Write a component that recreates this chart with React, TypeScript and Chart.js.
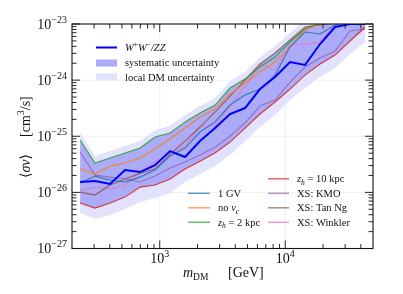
import React, { useEffect, useRef } from "react";
import { Chart, registerables } from "chart.js";

Chart.register(...registerables);

// ---------------- data ----------------
const massGeV = [232, 305, 402, 529, 697, 917, 1208, 1591, 2094, 2758, 3631, 4781, 6295, 8289, 10914, 14370, 18923, 24920, 32810, 43200];

const wwzz = [1.53e-26, 1.59e-26, 1.41e-26, 2.5e-26, 2.3e-26, 3.06e-26, 5.44e-26, 4.26e-26, 8.2e-26, 1.4e-25, 2.49e-25, 3.18e-25, 6.94e-25, 1.14e-24, 2.1e-24, 1.86e-24, 4.4e-24, 8.84e-24, 1.0e-23, 1.0e-23];
const oneGV = [1.47e-26, 1.95e-26, 1.66e-26, 1.53e-26, 1.87e-26, 2.5e-26, 4.44e-26, 6.16e-26, 1.19e-25, 1.8e-25, 3.6e-25, 5.42e-25, 6.94e-25, 1.23e-24, 3.89e-24, 7.2e-24, 6.63e-24, 9.6e-24, 1.18e-23, 1.28e-23];
const noVc = [2.6e-26, 2.12e-26, 2.94e-26, 3.33e-26, 4.09e-26, 5.92e-26, 8.92e-26, 1.4e-25, 2.2e-25, 3.05e-25, 5.66e-25, 8.88e-25, 1.4e-24, 2.1e-24, 3.89e-24, 7.82e-24, 1.0e-23, 1.18e-23, 1.28e-23, 1.39e-23];
const zh2 = [8.56e-26, 3.33e-26, 4.09e-26, 5.02e-26, 6.16e-26, 9.68e-26, 1.14e-25, 1.8e-25, 2.59e-25, 3.6e-25, 7.23e-25, 1.05e-24, 1.71e-24, 2.58e-24, 4.78e-24, 8.15e-24, 1.04e-23, 1.18e-23, 1.28e-23, 1.39e-23];
const zh10 = [6.45e-27, 5.25e-27, 6.45e-27, 8.24e-27, 1.24e-26, 1.35e-26, 1.73e-26, 2.6e-26, 3.6e-26, 5.02e-26, 7.88e-26, 1.4e-25, 2.49e-25, 4.07e-25, 6.94e-25, 1.23e-24, 1.94e-24, 2.8e-24, 4.98e-24, 8.84e-24];
const xsKMO = [5.23e-26, 2.03e-26, 1.87e-26, 1.73e-26, 1.53e-26, 1.95e-26, 2.71e-26, 3.47e-26, 4.62e-26, 6.38e-26, 1.0e-25, 1.73e-25, 3.45e-25, 4.42e-25, 9.25e-25, 1.71e-24, 2.48e-24, 3.3e-24, 7.5e-24, 8.15e-24];
const xsTanNg = [1.01e-26, 8.95e-27, 1.35e-26, 1.73e-26, 2.2e-26, 2.6e-26, 4.82e-26, 8.2e-26, 1.46e-25, 2.7e-25, 5.21e-25, 1.0e-24, 1.94e-24, 3.04e-24, 5.19e-24, 8.84e-24, 9.6e-24, 1.04e-23, 1.18e-23, 1.28e-23];
const xsWinkler = [1.1e-26, 1.24e-26, 1.14e-26, 1.35e-26, 2.3e-26, 3.47e-26, 5.02e-26, 6.68e-26, 1.46e-25, 1.58e-25, 3.45e-25, 7.85e-25, 1.94e-24, 1.52e-24, 4.23e-24, 4.4e-24, 4.78e-24, 9.6e-24, 1.09e-23, 1.18e-23];

const sysUpper = [8.56e-26, 3.33e-26, 4.09e-26, 5.02e-26, 6.16e-26, 9.68e-26, 1.14e-25, 1.8e-25, 2.59e-25, 3.6e-25, 7.23e-25, 1.05e-24, 1.94e-24, 3.04e-24, 5.19e-24, 8.84e-24, 1.04e-23, 1.18e-23, 1.28e-23, 1.39e-23];
const sysLower = [6.45e-27, 5.25e-27, 6.45e-27, 8.24e-27, 1.24e-26, 1.35e-26, 1.73e-26, 2.6e-26, 3.6e-26, 5.02e-26, 7.88e-26, 1.4e-25, 2.49e-25, 4.07e-25, 6.94e-25, 1.23e-24, 1.94e-24, 2.8e-24, 4.98e-24, 8.15e-24];
const localUpper = [1.14e-25, 4.44e-26, 5.44e-26, 6.68e-26, 8.2e-26, 1.29e-25, 1.52e-25, 2.39e-25, 3.45e-25, 4.78e-25, 9.63e-25, 1.4e-24, 2.58e-24, 4.06e-24, 6.91e-24, 1.18e-23, 1.39e-23, 1.57e-23, 1.71e-23, 1.85e-23];
const localLower = [4.28e-27, 3.34e-27, 3.94e-27, 5.04e-27, 6.72e-27, 7.9e-27, 9.72e-27, 1.53e-26, 2.12e-26, 2.94e-26, 4.62e-26, 8.2e-26, 1.46e-25, 2.39e-25, 4.42e-25, 7.23e-25, 1.14e-24, 1.64e-24, 2.92e-24, 4.78e-24];

const xMajorTicks = [1e3, 1e4];
const xMajorExp = ["3", "4"];
const xMinorTicks = [300, 400, 500, 600, 700, 800, 900, 2000, 3000, 4000, 5000, 6000, 7000, 8000, 9000, 20000, 30000, 40000];
const yMajorTicks = [1e-27, 1e-26, 1e-25, 1e-24, 1e-23];
const yMajorExp = ["\u221227", "\u221226", "\u221225", "\u221224", "\u221223"];
const yMinorMantissas = [2, 3, 4, 5, 6, 7, 8, 9];
const yMinorDecades = [1e-27, 1e-26, 1e-25, 1e-24];

// ---------------- styles ----------------
const FAMILY = '"Liberation Serif", "DejaVu Serif", serif';
const DARK_BAND = "#ababf7";
const LIGHT_BAND = "#e2e2fc";
const C_MAIN = "#0000ff";
const C_1GV = "#1f77b4";
const C_NOVC = "#ff7f0e";
const C_ZH2 = "#2ca02c";
const C_ZH10 = "#d62728";
const C_KMO = "#9467bd";
const C_TAN = "#8c564b";
const C_WINK = "#e377c2";

type Seg = { t: string; size: number; italic?: boolean; dy?: number };

function segFont(s: Seg) {
  return `${s.italic ? "italic " : ""}${s.size}px ${FAMILY}`;
}
function richWidth(ctx: CanvasRenderingContext2D, segs: Seg[]) {
  let w = 0;
  for (const s of segs) {
    ctx.font = segFont(s);
    w += ctx.measureText(s.t).width;
  }
  return w;
}
function drawRich(ctx: CanvasRenderingContext2D, segs: Seg[], x: number, y: number, align: "left" | "center" | "right") {
  const w = richWidth(ctx, segs);
  let cx = align === "left" ? x : align === "center" ? x - w / 2 : x - w;
  ctx.textAlign = "left";
  ctx.textBaseline = "alphabetic";
  for (const s of segs) {
    ctx.font = segFont(s);
    ctx.fillText(s.t, cx, y + (s.dy || 0));
    cx += ctx.measureText(s.t).width;
  }
}

function hexA(hex: string, a: number) {
  const r = parseInt(hex.slice(1, 3), 16);
  const g = parseInt(hex.slice(3, 5), 16);
  const b = parseInt(hex.slice(5, 7), 16);
  return `rgba(${r},${g},${b},${a})`;
}

const decorPlugin = {
  id: "decor",
  beforeDatasetsDraw(chart: any) {
    const { ctx, chartArea: a, scales } = chart;
    const x = scales.x;
    const y = scales.y;
    ctx.save();
    ctx.strokeStyle = "#ebebeb";
    ctx.lineWidth = 0.8;
    for (const v of xMajorTicks) {
      const px = x.getPixelForValue(v);
      ctx.beginPath();
      ctx.moveTo(px, a.top);
      ctx.lineTo(px, a.bottom);
      ctx.stroke();
    }
    for (const v of yMajorTicks) {
      const py = y.getPixelForValue(v);
      ctx.beginPath();
      ctx.moveTo(a.left, py);
      ctx.lineTo(a.right, py);
      ctx.stroke();
    }
    ctx.restore();
  },
  afterDraw(chart: any) {
    const { ctx, chartArea: a, scales } = chart;
    const x = scales.x;
    const y = scales.y;
    ctx.save();
    // frame
    ctx.strokeStyle = "#111";
    ctx.lineWidth = 1.1;
    ctx.strokeRect(a.left, a.top, a.right - a.left, a.bottom - a.top);
    // ticks (inward, all sides)
    const MAJ = 8;
    const MIN = 4.5;
    ctx.lineWidth = 0.9;
    const vt = (px: number, len: number) => {
      ctx.beginPath();
      ctx.moveTo(px, a.bottom);
      ctx.lineTo(px, a.bottom - len);
      ctx.moveTo(px, a.top);
      ctx.lineTo(px, a.top + len);
      ctx.stroke();
    };
    const ht = (py: number, len: number) => {
      ctx.beginPath();
      ctx.moveTo(a.left, py);
      ctx.lineTo(a.left + len, py);
      ctx.moveTo(a.right, py);
      ctx.lineTo(a.right - len, py);
      ctx.stroke();
    };
    for (const v of xMajorTicks) vt(x.getPixelForValue(v), MAJ);
    for (const v of xMinorTicks) vt(x.getPixelForValue(v), MIN);
    for (const v of yMajorTicks) ht(y.getPixelForValue(v), MAJ);
    for (const d of yMinorDecades) for (const m of yMinorMantissas) ht(y.getPixelForValue(m * d), MIN);

    // tick labels
    ctx.fillStyle = "#111";
    xMajorTicks.forEach((v, i) => {
      const px = x.getPixelForValue(v);
      drawRich(ctx, [{ t: "10", size: 14 }, { t: xMajorExp[i], size: 10, dy: -6 }], px, a.bottom + 14.5, "center");
    });
    yMajorTicks.forEach((v, i) => {
      const py = y.getPixelForValue(v);
      drawRich(ctx, [{ t: "10", size: 14 }, { t: yMajorExp[i], size: 10, dy: -6 }], a.left - 5, py + 4.5, "right");
    });

    // axis titles
    drawRich(ctx, [{ t: "m", size: 14, italic: true }, { t: "DM", size: 9.5, dy: 3 }], 183, 277, "left");
    drawRich(ctx, [{ t: "[GeV]", size: 14 }], 228, 277, "left");

    ctx.save();
    ctx.translate(29.5, 178);
    ctx.rotate(-Math.PI / 2);
    drawRich(ctx, [{ t: "\u27e8", size: 14 }, { t: "\u03c3v", size: 14, italic: true }, { t: "\u27e9", size: 14 }], 0, 0, "left");
    ctx.restore();
    ctx.save();
    ctx.translate(29.5, 137);
    ctx.rotate(-Math.PI / 2);
    drawRich(ctx, [{ t: "[cm", size: 14 }, { t: "3", size: 10, dy: -6 }, { t: "/s]", size: 14 }], 0, 0, "left");
    ctx.restore();

    // legend 1 (top-left)
    const L1x0 = 96, L1x1 = 117, L1t = 125, FS = 10.5;
    ctx.strokeStyle = C_MAIN;
    ctx.lineWidth = 2;
    ctx.beginPath();
    ctx.moveTo(L1x0, 47.5);
    ctx.lineTo(L1x1, 47.5);
    ctx.stroke();
    ctx.fillStyle = "#111";
    drawRich(ctx, [
      { t: "W", size: FS, italic: true },
      { t: "+", size: 7.5, dy: -4 },
      { t: "W", size: FS, italic: true },
      { t: "\u2212", size: 7.5, dy: -4 },
      { t: "/ZZ", size: FS, italic: true },
    ], L1t, 51, "left");
    ctx.fillStyle = DARK_BAND;
    ctx.fillRect(L1x0, 59.5, L1x1 - L1x0, 7);
    ctx.fillStyle = LIGHT_BAND;
    ctx.fillRect(L1x0, 73.5, L1x1 - L1x0, 7);
    ctx.fillStyle = "#111";
    drawRich(ctx, [{ t: "systematic uncertainty", size: FS }], L1t, 66, "left");
    drawRich(ctx, [{ t: "local DM uncertainty", size: FS }], L1t, 80.5, "left");

    // legend 2 (bottom-right, two columns)
    const rows = [178.8, 193.3, 207.8, 222.3];
    const entries: { col: number; row: number; color: string; segs: Seg[] }[] = [
      { col: 0, row: 1, color: C_1GV, segs: [{ t: "1 GV", size: FS }] },
      { col: 0, row: 2, color: C_NOVC, segs: [{ t: "no ", size: FS }, { t: "v", size: FS, italic: true }, { t: "c", size: 7.5, italic: true, dy: 2.5 }] },
      { col: 0, row: 3, color: C_ZH2, segs: [{ t: "z", size: FS, italic: true }, { t: "h", size: 7.5, italic: true, dy: 2.5 }, { t: " = 2 kpc", size: FS }] },
      { col: 1, row: 0, color: C_ZH10, segs: [{ t: "z", size: FS, italic: true }, { t: "h", size: 7.5, italic: true, dy: 2.5 }, { t: " = 10 kpc", size: FS }] },
      { col: 1, row: 1, color: C_KMO, segs: [{ t: "XS: KMO", size: FS }] },
      { col: 1, row: 2, color: C_TAN, segs: [{ t: "XS: Tan Ng", size: FS }] },
      { col: 1, row: 3, color: C_WINK, segs: [{ t: "XS: Winkler", size: FS }] },
    ];
    const colX = [
      { l0: 188, l1: 210, t: 218 },
      { l0: 268, l1: 289, t: 297 },
    ];
    for (const e of entries) {
      const c = colX[e.col];
      const yy = rows[e.row];
      ctx.strokeStyle = hexA(e.color, 0.7);
      ctx.lineWidth = 1.5;
      ctx.beginPath();
      ctx.moveTo(c.l0, yy);
      ctx.lineTo(c.l1, yy);
      ctx.stroke();
      ctx.fillStyle = "#111";
      drawRich(ctx, e.segs, c.t, yy + 3.5, "left");
    }
    ctx.restore();
  },
};

function pts(arr: number[]) {
  return massGeV.map((m, i) => ({ x: m, y: arr[i] }));
}

function lineDs(label: string, arr: number[], color: string, width: number) {
  return {
    label,
    data: pts(arr),
    borderColor: color,
    backgroundColor: color,
    borderWidth: width,
    pointRadius: 0,
    fill: false,
    order: 0,
  };
}

export default function App() {
  const ref = useRef<HTMLCanvasElement>(null);
  useEffect(() => {
    document.body.style.margin = "0";
    const canvas = ref.current;
    if (!canvas) return;
    const chart = new Chart(canvas, {
      type: "line",
      data: {
        datasets: [
          lineDs("W+W-/ZZ", wwzz, C_MAIN, 2),
          lineDs("1 GV", oneGV, hexA(C_1GV, 0.9), 1.1),
          lineDs("no v_c", noVc, hexA(C_NOVC, 0.9), 1.1),
          lineDs("z_h = 2 kpc", zh2, hexA(C_ZH2, 0.9), 1.1),
          lineDs("z_h = 10 kpc", zh10, hexA(C_ZH10, 0.9), 1.1),
          lineDs("XS: KMO", xsKMO, hexA(C_KMO, 0.9), 1.1),
          lineDs("XS: Tan Ng", xsTanNg, hexA(C_TAN, 0.9), 1.1),
          lineDs("XS: Winkler", xsWinkler, hexA(C_WINK, 0.9), 1.1),
          {
            label: "systematic uncertainty",
            data: pts(sysUpper),
            borderWidth: 0,
            borderColor: "rgba(0,0,0,0)",
            backgroundColor: DARK_BAND,
            pointRadius: 0,
            fill: "+1",
            order: 1,
          },
          {
            label: "sys-lower",
            data: pts(sysLower),
            borderWidth: 0,
            borderColor: "rgba(0,0,0,0)",
            pointRadius: 0,
            fill: false,
            order: 1,
          },
          {
            label: "local DM uncertainty",
            data: pts(localUpper),
            borderWidth: 0,
            borderColor: "rgba(0,0,0,0)",
            backgroundColor: LIGHT_BAND,
            pointRadius: 0,
            fill: "+1",
            order: 2,
          },
          {
            label: "local-lower",
            data: pts(localLower),
            borderWidth: 0,
            borderColor: "rgba(0,0,0,0)",
            pointRadius: 0,
            fill: false,
            order: 2,
          },
        ] as any,
      },
      options: {
        responsive: false,
        animation: false,
        devicePixelRatio: 1,
        layout: { padding: { top: 24, right: 30, left: 0, bottom: 0 } },
        plugins: {
          legend: { display: false },
          tooltip: { enabled: false },
          title: { display: false },
        },
        elements: { line: { tension: 0 }, point: { radius: 0 } },
        scales: {
          x: {
            type: "logarithmic",
            min: 200,
            max: 50000,
            bounds: "data",
            grid: { display: false },
            border: { display: false },
            ticks: { display: false },
            afterFit: (s: any) => {
              s.height = 45.5;
            },
          },
          y: {
            type: "logarithmic",
            min: 1e-27,
            max: 1e-23,
            bounds: "data",
            grid: { display: false },
            border: { display: false },
            ticks: { display: false },
            afterFit: (s: any) => {
              s.width = 72;
            },
          },
        },
      } as any,
      plugins: [decorPlugin as any],
    });
    return () => chart.destroy();
  }, []);
  return (
    <div style={{ width: 403, height: 294 }}>
      <canvas ref={ref} width={403} height={294} style={{ display: "block" }} />
    </div>
  );
}
